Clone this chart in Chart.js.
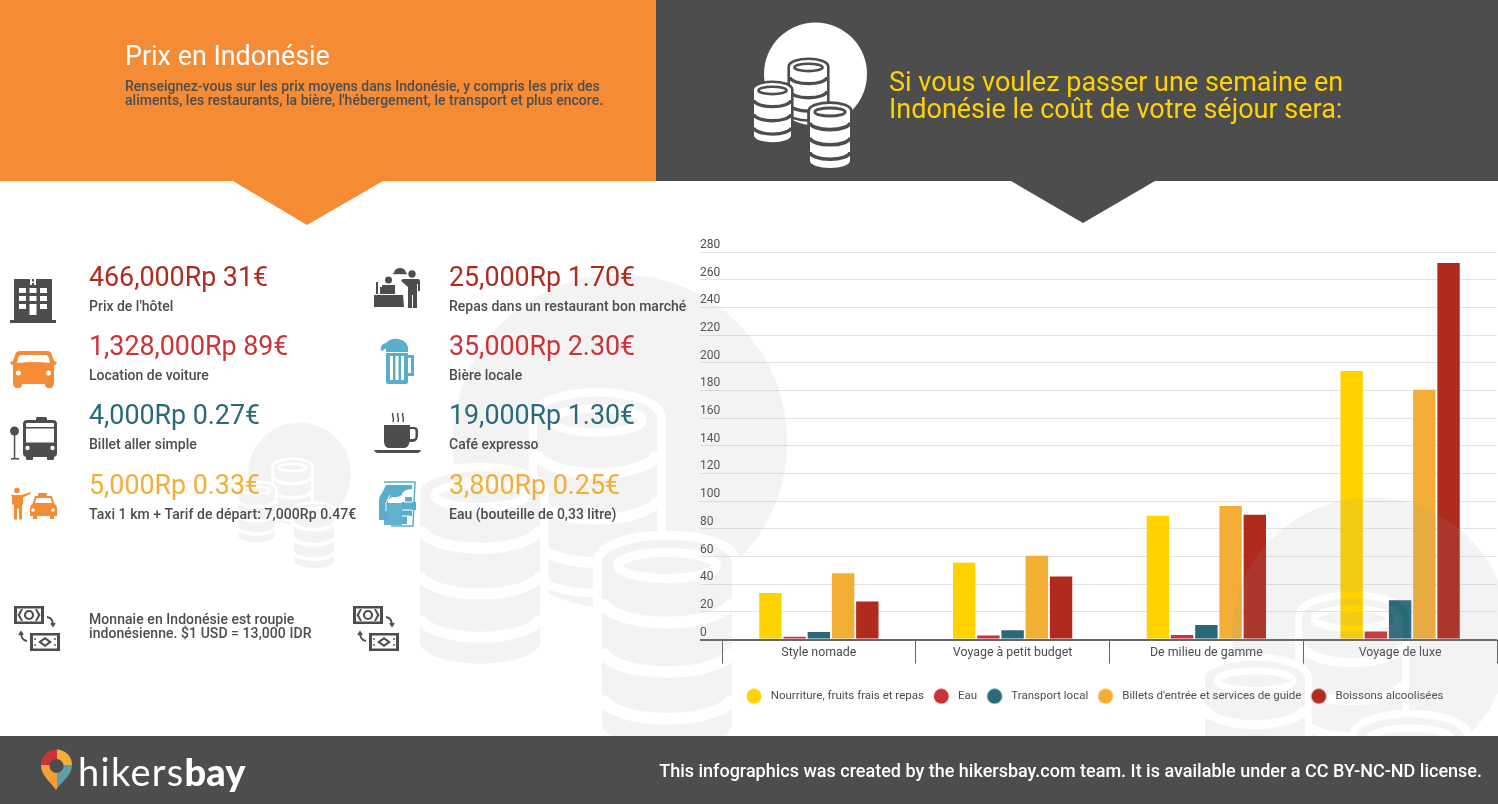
<!DOCTYPE html>
<html lang="fr">
<head>
<meta charset="utf-8">
<title>Prix en Indonésie</title>
<script src="https://cdn.jsdelivr.net/npm/chart.js@4/dist/chart.umd.min.js"></script>
<style>
  html, body { margin: 0; padding: 0; background: #fff; }
  body { width: 1498px; height: 804px; overflow: hidden; position: relative; font-family: Roboto, sans-serif; color: #4d4d4d; }
  .layer { position: absolute; left: 0; top: 0; }
  #chartBox { position: absolute; left: 690px; top: 230px; z-index: 1; }
  #coins { z-index: 2; }
  #head, #foot { z-index: 3; }
  #icons { z-index: 4; }
  .txt { position: absolute; white-space: nowrap; z-index: 5; }
  .price { font-size: 26.800px; line-height: 32px; }
  .sub { font-size: 14px; line-height: 16px; font-weight: 500; }
  .c1 { color: #b02a1e; } .c2 { color: #cd3236; } .c3 { color: #29697a; } .c4 { color: #f3ae35; }
</style>
</head>
<body>

<div id="chartBox"><canvas id="myChart" width="808" height="482"></canvas></div>

<!-- faded coins that lie over the chart and the tiles -->
<svg id="coins" class="layer" width="1498" height="804">
  <defs>
    <path id="can" d="M0 18 A50 18 0 0 1 100 18 V142 A50 18 0 0 1 0 142 Z"/>
    <g id="stack">
      <use href="#can" fill="#000" stroke="#000" stroke-width="14"/>
      <use href="#can" fill="#fff"/>
      <ellipse cx="50" cy="20" rx="38" ry="10" fill="none" stroke="#000" stroke-width="7"/>
      <path d="M0 46 A50 18 0 0 0 100 46 M0 84 A50 18 0 0 0 100 84 M0 120 A50 18 0 0 0 100 120" fill="none" stroke="#000" stroke-width="9"/>
    </g>
    <mask id="coinMask" maskUnits="userSpaceOnUse" x="-10" y="-10" width="140" height="170">
      <circle cx="61.500" cy="52" r="51.500" fill="#fff"/>
      <use href="#stack" transform="translate(36 38) scale(.37)"/>
      <use href="#stack" transform="translate(0 61) scale(.37)"/>
      <use href="#stack" transform="translate(56 82) scale(.4)"/>
    </mask>
  </defs>
  <g transform="translate(238 422)"><rect x="-10" y="-10" width="140" height="170" fill="#999" fill-opacity=".12" mask="url(#coinMask)"/></g>
  <g transform="translate(420 273) scale(3.25)"><rect x="-10" y="-10" width="140" height="170" fill="#999" fill-opacity=".12" mask="url(#coinMask)"/></g>
  <g transform="translate(1205 496) scale(2.7)"><rect x="-10" y="-10" width="140" height="170" fill="#999" fill-opacity=".12" mask="url(#coinMask)"/></g>
</svg>

<!-- header and footer bands -->
<svg id="head" class="layer" width="1498" height="230">
  <rect x="0" y="0" width="656" height="181" fill="#f58b35"/>
  <polygon points="233,181 383,181 307,225" fill="#f58b35"/>
  <rect x="656" y="0" width="842" height="181" fill="#4d4d4d"/>
  <polygon points="1011,181 1155,181 1083,223" fill="#4d4d4d"/>
  <g transform="translate(754 22)"><rect x="-10" y="-10" width="140" height="170" fill="#fff" mask="url(#coinMask)"/></g>
</svg>
<svg id="foot" class="layer" width="1498" height="804" style="pointer-events:none">
  <defs>
    <clipPath id="pin"><path d="M56 790 C50 781 41 776 41 765 A15.500 15.500 0 0 1 72 765 C72 776 62 781 56 790 Z"/></clipPath>
  </defs>
  <rect x="0" y="736" width="1498" height="68" fill="#4d4d4d"/>
  <g clip-path="url(#pin)">
    <rect x="40" y="748" width="17" height="17" fill="#cd3236"/>
    <rect x="57" y="748" width="17" height="17" fill="#f3ae35"/>
    <rect x="40" y="765" width="17" height="26" fill="#f3a035"/>
    <rect x="57" y="765" width="17" height="26" fill="#5b9fa8"/>
  </g>
  <circle cx="56.500" cy="766" r="7" fill="#4d4d4d"/>
</svg>

<!-- tile icons -->
<svg id="icons" class="layer" width="1498" height="804">
  <!-- hotel -->
  <path d="M14 279 h38 v41 h4 v3 h-46 v-3 h4 z" fill="#4d4d4d"/>
  <g fill="#fff">
    <path d="M30 279h2v2.500h2v-2.500h2v6h-2v-2h-2v2h-2z"/>
    <rect x="19" y="288" width="7" height="5"/><rect x="29.500" y="288" width="7" height="5"/><rect x="40" y="288" width="7" height="5"/>
    <rect x="19" y="296" width="7" height="5"/><rect x="29.500" y="296" width="7" height="5"/><rect x="40" y="296" width="7" height="5"/>
    <rect x="19" y="304" width="7" height="5"/><rect x="29.500" y="304" width="7" height="11"/><rect x="40" y="304" width="7" height="5"/>
  </g>
  <!-- car -->
  <path d="M20 351 h27 q4 0 5 4 l2 6 q2 0 3 2 q-1 2 -3 2 v2 v15 q0 5 -3 6 h-3 q-3 0 -3 -4 h-23 q0 4 -3 4 h-3 q-3 -1 -3 -6 v-17 q-2 0 -3 -2 q1 -2 3 -2 l2 -6 q1 -4 5 -4 z" fill="#f58b35"/>
  <path d="M21 355 h25 q2 0 3 3 l1 5 q-16 -2 -33 0 l1 -5 q1 -3 3 -3 z" fill="#fff"/>
  <circle cx="18.500" cy="373" r="2.500" fill="#fff"/><circle cx="48.500" cy="373" r="2.500" fill="#fff"/>
  <!-- bus -->
  <circle cx="14.500" cy="431" r="4.500" fill="#4d4d4d"/><rect x="13.800" y="434" width="1.500" height="25" fill="#4d4d4d"/><rect x="11" y="458" width="8" height="1.500" fill="#4d4d4d"/>
  <rect x="36" y="417" width="11" height="4" rx="1.500" fill="#4d4d4d"/>
  <rect x="23" y="420" width="34" height="37" rx="4" fill="#4d4d4d"/>
  <rect x="26" y="423" width="28" height="4" rx="1" fill="#fff"/><rect x="26" y="428.500" width="28" height="14" fill="#fff"/>
  <rect x="26" y="456" width="7" height="4" rx="1" fill="#4d4d4d"/><rect x="47" y="456" width="7" height="4" rx="1" fill="#4d4d4d"/>
  <circle cx="27.500" cy="448" r="2.200" fill="#fff"/><circle cx="52.500" cy="448" r="2.200" fill="#fff"/>
  <!-- taxi -->
  <g fill="#f58b35">
    <circle cx="17" cy="490.500" r="2.800"/>
    <path d="M11 495 h10 l10 -3 v1.500 l-8 4 v7 h-1 v15 h-3 v-11 h-2 v11 h-3 v-15 h-2 v-7 q0 -2 -1 -2 z"/>
    <rect x="38" y="493" width="9" height="3" rx="1"/>
    <path d="M35 496 h17 l2.500 8 q2.500 1 2.500 4 v8 h-3 v3 h-4 v-3 h-13 v3 h-4 v-3 h-3 v-8 q0 -3 2.500 -4 z"/>
  </g>
  <path d="M36.500 498 h14 l1.500 5 h-17 z" fill="#fff"/><circle cx="33" cy="510" r="1.800" fill="#fff"/><circle cx="53" cy="510" r="1.800" fill="#fff"/>
  <!-- waiter -->
  <g fill="#4d4d4d">
    <circle cx="388.500" cy="280" r="3.500"/><path d="M382 285 h13 v9 h-13 z"/>
    <path d="M374 295 h29 l1 12 h-30 z"/><rect x="376" y="282" width="2" height="12"/><rect x="380" y="287" width="3" height="7"/>
    <circle cx="412" cy="274" r="3.700"/>
    <path d="M407 279 h11 q2 0 2 3 v9 h-2 v-7 h-1 v24 h-4 v-13 h-1 v13 h-4 v-21 l-7 -6 l1.500 -2 z"/>
    <path d="M394 273 a6 5 0 0 1 12 0 z"/><rect x="393" y="273" width="14" height="1.200"/>
  </g>
  <!-- beer -->
  <path d="M386 353 h22 v2 h6 v21 h-6 v6 q0 2 -2 2 h-18 q-2 0 -2 -2 z M408 358 v15 h3 v-15 z" fill="#5aaecb" fill-rule="evenodd"/>
  <path d="M381 348 q0 -4 5 -5 q5 -5 12 -4 q8 1 10 8 v5 h-22 v-3 q-2 -1 -3 2 q-3 0 -2 -3 z" fill="#5aaecb"/>
  <rect x="390" y="356" width="3" height="24" fill="#fff"/><rect x="395.500" y="356" width="3" height="24" fill="#fff"/><rect x="401" y="356" width="3" height="24" fill="#fff"/>
  <!-- coffee -->
  <path d="M384 425 h26 v2 h4 q4 0 4 4 v5 q0 5 -5 6 h-3.500 q-1 6 -6 6 h-14 q-5 0 -5.500 -6 z M410 429 v10 h3 q2.500 0 2.500 -3 v-5 q0 -2 -2 -2 z" fill="#4d4d4d" fill-rule="evenodd"/>
  <path d="M374 450 h47 q-1 3 -4 3 h-39 q-3 0 -4 -3 z" fill="#4d4d4d"/>
  <path d="M393 413 q-1 2 0 4 q1 2 0 5 M398 413 q-1 2 0 4 q1 2 0 5 M403 413 q-1 2 0 4 q1 2 0 5" stroke="#4d4d4d" stroke-width="1.500" fill="none"/>
  <!-- water -->
  <path d="M384 482 h31 l-2 44 h-22" fill="none" stroke="#5aaecb" stroke-width="1.500"/>
  <path d="M386 485 h26 v4 l-6 1 l-4 3 v2 q-5 3 -10 2 l-4 3 v20 h-9 v-19 q0 -5 3 -8 z" fill="#5aaecb"/>
  <path d="M384 503 h18 v22 h-18 z" fill="#5aaecb" opacity=".95"/>
  <path d="M405 497 h7 v5 h4 v8 h-4 v6 h-5 v8 h-5 v-22 h3 z" fill="#5aaecb"/>
  <path d="M404 502 h8 M402 510 h10 M402 516 h8 M390 495 l-4 8 v8" stroke="#fff" stroke-width="1" fill="none"/>
  <!-- money exchange, used twice -->
  <g id="money">
    <rect x="14" y="606" width="30" height="18" fill="#4d4d4d"/>
    <rect x="17" y="608.500" width="24" height="13" fill="#fff"/>
    <circle cx="29" cy="615" r="4" fill="none" stroke="#4d4d4d" stroke-width="2.200"/>
    <path d="M21 609 l-3.500 6 l3.500 6 h2 l-3 -6 l3 -6 z M37 609 l3.500 6 l-3.500 6 h-2 l3 -6 l-3 -6 z" fill="#4d4d4d"/>
    <rect x="30" y="633" width="30" height="18" fill="#4d4d4d"/>
    <rect x="33" y="635.500" width="24" height="13" fill="#fff"/>
    <path d="M45 637 l7 5 l-7 5 l-7 -5 z M45 639.500 l-3.500 2.500 l3.500 2.500 l3.500 -2.500 z" fill="#4d4d4d" fill-rule="evenodd"/>
    <path d="M35 638 v2 M35 644 v2 M55 638 v2 M55 644 v2" stroke="#4d4d4d" stroke-width="1.400"/>
    <path d="M47 617 q6 1 6 8 M51 623 l2 3 l2 -3 M27 641 q-6 -1 -6 -8 M19 635 l2 -3 l2 3" fill="none" stroke="#4d4d4d" stroke-width="1.800"/>
  </g>
  <use href="#money" x="339"/>
</svg>

<!-- header text -->
<div class="txt" style="left:125px;top:40px;font-size:26.900px;line-height:32px;color:#fff">Prix en Indonésie</div>
<div class="txt" style="left:125px;top:79px;font-size:14px;line-height:14px;font-weight:500;letter-spacing:.02px">Renseignez-vous sur les prix moyens dans Indonésie, y compris les prix des<br>aliments, les restaurants, la bière, l'hébergement, le transport et plus encore.</div>
<div class="txt" style="left:889px;top:69px;font-size:27px;line-height:27px;color:#ffd200">Si vous voulez passer une semaine en<br>Indonésie le coût de votre séjour sera:</div>

<!-- price tiles -->
<div class="txt price c1" style="left:89px;top:261px">466,000Rp 31€</div>
<div class="txt sub" style="left:89px;top:298px">Prix de l'hôtel</div>
<div class="txt price c2" style="left:89px;top:330px">1,328,000Rp 89€</div>
<div class="txt sub" style="left:89px;top:367px">Location de voiture</div>
<div class="txt price c3" style="left:89px;top:399px">4,000Rp 0.27€</div>
<div class="txt sub" style="left:89px;top:436px">Billet aller simple</div>
<div class="txt price c4" style="left:89px;top:469px">5,000Rp 0.33€</div>
<div class="txt sub" style="left:89px;top:506px;letter-spacing:.07px">Taxi 1 km + Tarif de départ: 7,000Rp 0.47€</div>

<div class="txt price c1" style="left:449px;top:261px">25,000Rp 1.70€</div>
<div class="txt sub" style="left:449px;top:298px">Repas dans un restaurant bon marché</div>
<div class="txt price c2" style="left:449px;top:330px">35,000Rp 2.30€</div>
<div class="txt sub" style="left:449px;top:367px">Bière locale</div>
<div class="txt price c3" style="left:449px;top:399px">19,000Rp 1.30€</div>
<div class="txt sub" style="left:449px;top:436px">Café expresso</div>
<div class="txt price c4" style="left:449px;top:469px">3,800Rp 0.25€</div>
<div class="txt sub" style="left:449px;top:506px">Eau (bouteille de 0,33 litre)</div>

<div class="txt" style="left:89px;top:612px;font-size:14px;line-height:14px;font-weight:500;letter-spacing:.06px">Monnaie en Indonésie est roupie<br>indonésienne. $1 USD = 13,000 IDR</div>

<!-- footer text -->
<div class="txt" style="left:78px;top:746px;font-family:Lato,sans-serif;font-size:38px;line-height:50px;color:#fff;letter-spacing:1.300px;font-weight:400">hikers<span style="font-weight:900;letter-spacing:0">bay</span></div>
<div class="txt" style="right:16px;top:760px;font-size:18px;line-height:22px;font-weight:500;color:#fff">This infographics was created by the hikersbay.com team. It is available under a CC BY-NC-ND license.</div>

<script>
const categories = ['Style nomade', 'Voyage à petit budget', 'De milieu de gamme', 'Voyage de luxe'];
const foodValues = [33.7, 55.5, 89.5, 194];
const waterValues = [2, 3, 3.4, 5.8];
const transportValues = [5.5, 6.7, 10.6, 28.4];
const ticketValues = [48, 60.5, 96.6, 180.5];
const alcoholValues = [27.5, 45.5, 90.2, 272];

const textColor = '#4d4d4d';
const gridColor = '#e3e3e3';
const axisColor = '#666666';

// legend dot with a bit of room on the right, the text sits further off than Chart.js does by default
function legendDot(color) {
    const c = document.createElement('canvas');
    c.width = 22;
    c.height = 16;
    const g = c.getContext('2d');
    g.fillStyle = color;
    g.beginPath();
    g.arc(9.25, 8, 7.5, 0, Math.PI * 2);
    g.fill();
    return c;
}

function bars(label, data, color) {
    return {
        label: label,
        data: data,
        backgroundColor: color,
        borderWidth: 0,
        categoryPercentage: 0.625,
        barPercentage: 0.925,
        pointStyle: legendDot(color)
    };
}

// the legend is centred under the whole canvas minus a little on the right
const nudgeLegend = {
    id: 'nudgeLegend',
    afterLayout(chart) {
        chart.legend.left -= 3.5;
        chart.legend.right -= 3.5;
    }
};

const ctx = document.getElementById('myChart').getContext('2d');
const myChart = new Chart(ctx, {
    type: 'bar',
    plugins: [nudgeLegend],
    data: {
        labels: categories,
        datasets: [
            bars('Nourriture, fruits frais et repas', foodValues, '#ffd200'),
            bars('Eau', waterValues, '#cd3236'),
            bars('Transport local', transportValues, '#29697a'),
            bars("Billets d'entrée et services de guide", ticketValues, '#f3ae35'),
            bars('Boissons alcoolisées', alcoholValues, '#b02a1e')
        ]
    },
    options: {
        responsive: false,
        animation: false,
        events: [],
        layout: { autoPadding: false, padding: { left: 10, right: 1, top: 22, bottom: 0 } },
        plugins: {
            title: { display: false },
            tooltip: { enabled: false },
            legend: {
                position: 'bottom',
                labels: {
                    usePointStyle: true,
                    pointStyleWidth: 18.5,
                    boxHeight: 12,
                    padding: 9.9,
                    color: textColor,
                    font: { family: 'Roboto', size: 11.5 }
                }
            }
        },
        scales: {
            x: {
                grid: { drawOnChartArea: false, drawTicks: true, tickLength: 24, tickColor: axisColor, tickWidth: 1 },
                border: { display: false },
                ticks: { color: textColor, padding: -18, maxRotation: 0, font: { family: 'Roboto', size: 12.4 } },
                afterFit: function (scale) { scale.height = 41; }
            },
            y: {
                min: 0,
                max: 280,
                grid: {
                    tickLength: 22,
                    color: (c) => c.tick.value === 0 ? axisColor : gridColor,
                    tickColor: (c) => c.tick.value === 0 ? axisColor : gridColor,
                    lineWidth: (c) => c.tick.value === 0 ? 2 : 1
                },
                border: { display: false },
                ticks: {
                    stepSize: 20,
                    align: 'end',
                    crossAlign: 'far',
                    labelOffset: -1,
                    color: textColor,
                    font: { family: 'Roboto', size: 12 }
                },
                afterFit: function (scale) { scale.width = 22; }
            }
        }
    }
});
</script>
</body>
</html>
